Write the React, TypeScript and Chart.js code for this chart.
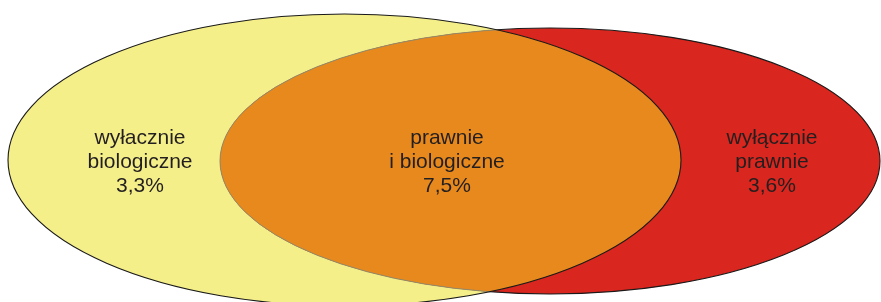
import React, { useEffect, useRef } from "react";
import { Chart, registerables } from "chart.js";

Chart.register(...registerables);

// Sets (ellipses) in a 0..881 x 0..302 data space
const setNames = ["biologiczne", "prawne"];
const setCenterX = [344.5, 550];
const setCenterY = [160, 161];
const setRadiusX = [336.5, 330];
const setRadiusY = [146, 133];
const setColors = ["#f5ef8a", "#d9261e"];
const overlapColor = "#e8891e";

// Regions
const regionLines = [
  ["wyłacznie", "biologiczne"],
  ["prawnie", "i biologiczne"],
  ["wyłącznie", "prawnie"],
];
const regionValues = [3.3, 7.5, 3.6];
const regionLabelX = [140, 447, 772];
const regionLabelY = [163, 163, 163];

const fmt = (v: number) => v.toFixed(1).replace(".", ",") + "%";

const vennPlugin = {
  id: "venn",
  beforeDatasetsDraw(chart: any) {
    const { ctx, scales } = chart;
    const xs = scales.x;
    const ys = scales.y;
    const ell = (i: number) => {
      const cx = xs.getPixelForValue(setCenterX[i]);
      const cy = ys.getPixelForValue(setCenterY[i]);
      const rx = Math.abs(xs.getPixelForValue(setCenterX[i] + setRadiusX[i]) - cx);
      const ry = Math.abs(ys.getPixelForValue(setCenterY[i] + setRadiusY[i]) - cy);
      const p = new Path2D();
      p.ellipse(cx, cy, rx, ry, 0, 0, Math.PI * 2);
      return p;
    };
    const a = ell(0);
    const b = ell(1);
    ctx.save();
    ctx.fillStyle = setColors[0];
    ctx.fill(a);
    ctx.fillStyle = setColors[1];
    ctx.fill(b);
    ctx.save();
    ctx.clip(a);
    ctx.fillStyle = overlapColor;
    ctx.fill(b);
    ctx.strokeStyle = "#8f8a6a";
    ctx.lineWidth = 1;
    ctx.stroke(b);
    ctx.restore();
    ctx.save();
    const outside = new Path2D();
    outside.rect(0, 0, chart.width, chart.height);
    outside.addPath(a);
    ctx.clip(outside, "evenodd");
    ctx.strokeStyle = "#1a1a1a";
    ctx.lineWidth = 1.1;
    ctx.stroke(b);
    ctx.restore();
    ctx.strokeStyle = "#1a1a1a";
    ctx.lineWidth = 1.1;
    ctx.stroke(a);
    ctx.restore();
  },
  afterDatasetsDraw(chart: any) {
    const { ctx, scales } = chart;
    ctx.save();
    ctx.fillStyle = "#231f20";
    ctx.font = '21px "Liberation Sans", Arial, sans-serif';
    ctx.textAlign = "center";
    ctx.textBaseline = "middle";
    const lh = 24;
    regionLines.forEach((lines, i) => {
      const all = [...lines, fmt(regionValues[i])];
      const x = scales.x.getPixelForValue(regionLabelX[i]);
      const y = scales.y.getPixelForValue(regionLabelY[i]);
      all.forEach((t, j) => {
        ctx.fillText(t, x, y + (j - (all.length - 1) / 2) * lh - 1);
      });
    });
    ctx.restore();
  },
};

export default function App() {
  const ref = useRef<HTMLCanvasElement | null>(null);
  useEffect(() => {
    if (!ref.current) return;
    const chart = new Chart(ref.current, {
      type: "scatter",
      data: {
        datasets: [
          {
            label: setNames.join(" / "),
            data: regionLabelX.map((x, i) => ({ x, y: regionLabelY[i] })),
            pointRadius: 0,
            pointHoverRadius: 0,
          },
        ],
      },
      options: {
        animation: false,
        responsive: false,
        maintainAspectRatio: false,
        layout: { padding: 0 },
        plugins: { legend: { display: false }, tooltip: { enabled: false } },
        scales: {
          x: { type: "linear", min: 0, max: 881, display: false },
          y: { type: "linear", min: 0, max: 302, reverse: true, display: false },
        },
      },
      plugins: [vennPlugin],
    });
    return () => chart.destroy();
  }, []);
  return (
    <div style={{ position: "fixed", left: 0, top: 0, width: 881, height: 302, background: "#fff" }}>
      <canvas ref={ref} width={881} height={302} style={{ display: "block" }} />
    </div>
  );
}
